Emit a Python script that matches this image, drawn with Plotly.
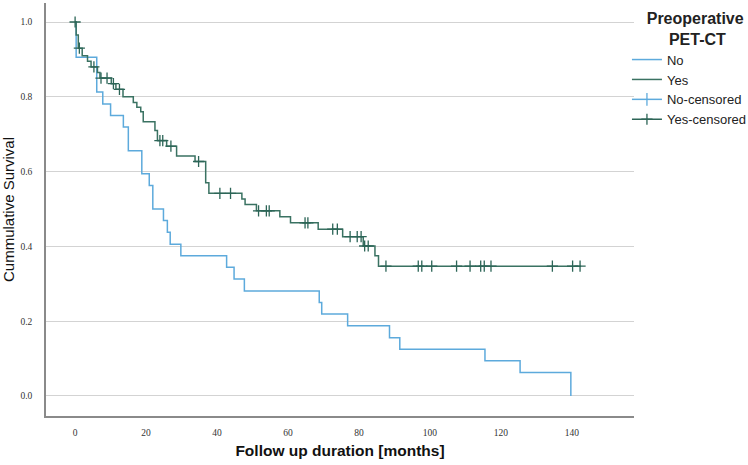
import numpy as np
import plotly.graph_objects as go

# ---- data ----
no_times = [0.3, 6.1, 7.8, 10.0, 13.6, 15.0, 18.8, 20.9, 21.9, 24.9, 26.0, 26.8, 29.8,
            42.7, 44.8, 47.7, 68.8, 69.5, 76.8, 88.6, 91.5, 115.5, 125.4, 139.7]
no_surv = [0.906, 0.8125, 0.781, 0.75, 0.719, 0.656, 0.594, 0.5625, 0.5, 0.469, 0.4375, 0.406, 0.375,
           0.344, 0.3125, 0.281, 0.25, 0.219, 0.1875, 0.156, 0.125, 0.094, 0.0625, 0.0]

yes_times = [0.3, 0.9, 2.0, 3.5, 4.5, 6.3, 7.0, 10.2, 11.5, 13.5, 16.4, 17.4, 18.5, 19.2,
             22.5, 23.2, 25.8, 28.6, 33.8, 36.8, 37.7, 47.0, 47.9, 51.1, 57.7, 60.7,
             68.5, 75.4, 81.2, 84.5, 85.5]
yes_surv = [0.965, 0.93, 0.91, 0.895, 0.88, 0.865, 0.85, 0.835, 0.82, 0.80, 0.785, 0.772, 0.76, 0.733,
            0.71, 0.683, 0.668, 0.642, 0.627, 0.57, 0.542, 0.527, 0.512, 0.495, 0.479, 0.463,
            0.446, 0.426, 0.401, 0.375, 0.347]
yes_end = 142.6
yes_censor_times = [0.0, 1.2, 5.3, 7.3, 9.0, 10.8, 12.5, 23.9, 24.7, 27.0, 34.8, 40.8, 43.8,
                    51.7, 53.9, 54.7, 64.8, 65.6, 72.6, 73.9, 77.5, 79.5, 80.6, 81.6, 82.6,
                    87.6, 96.7, 97.7, 100.5, 107.5, 111.3, 114.3, 115.3, 117.2, 134.5, 140.2, 142.3]

x_ticks = [0, 20, 40, 60, 80, 100, 120, 140]
y_ticks = [0.0, 0.2, 0.4, 0.6, 0.8, 1.0]

BLUE = "#5DAADC"
GREEN = "#3A7262"
CENS = "#2C6557"

def step_xy(times, surv, end=None):
    xs = [0.0] + list(times)
    ys = [1.0] + list(surv)
    if end is not None:
        xs.append(end)
        ys.append(ys[-1])
    return xs, ys

def surv_at(times, surv, t):
    idx = np.searchsorted(np.array(times), np.array(t), side="right")
    s = np.concatenate([[1.0], surv])
    return s[idx]

def isolated(xs, ys):
    # points separated by gaps so the "lines" part only shows in the legend
    ox, oy = [], []
    for a, b in zip(xs, ys):
        ox += [a, None]
        oy += [b, None]
    return ox, oy

fig = go.Figure()
nx, ny = step_xy(no_times, no_surv)
fig.add_trace(go.Scatter(x=nx, y=ny, mode="lines", line=dict(color=BLUE, width=1.5, shape="hv"), name="No"))
yx, yy = step_xy(yes_times, yes_surv, yes_end)
fig.add_trace(go.Scatter(x=yx, y=yy, mode="lines", line=dict(color=GREEN, width=1.5, shape="hv"), name="Yes"))
fig.add_trace(go.Scatter(x=[None], y=[None], mode="lines+markers", name="No-censored",
                         line=dict(color=BLUE, width=1.5), connectgaps=False,
                         marker=dict(symbol="line-ns-open", size=9, color=BLUE,
                                     line=dict(color=BLUE, width=1.3))))
cx, cy = isolated(yes_censor_times, surv_at(yes_times, yes_surv, yes_censor_times))
fig.add_trace(go.Scatter(x=cx, y=cy, mode="lines+markers", name="Yes-censored",
                         line=dict(color=CENS, width=1.5), connectgaps=False,
                         marker=dict(symbol="cross-thin-open", size=8, color=CENS,
                                     line=dict(color=CENS, width=1.3))))

NB = "&nbsp;"
fig.update_layout(
    width=748, height=465,
    margin=dict(l=46, r=114, t=3, b=49, autoexpand=False),
    paper_bgcolor="white", plot_bgcolor="white",
    font=dict(family="Liberation Sans, Arial, sans-serif", color="#222"),
    legend=dict(
        x=0.988, xanchor="left", y=1.0, yanchor="top",
        bgcolor="rgba(0,0,0,0)",
        title=dict(text="<b>" + NB * 4 + "Preoperative<br>" + NB * 9 + "PET-CT</b>", side="top",
                   font=dict(size=16, color="#222")),
        font=dict(size=13, color="#222"),
        itemwidth=30, tracegroupgap=0,
    ),
    xaxis=dict(
        range=[-8.2, 157.5], tickvals=x_ticks, ticktext=[str(v) for v in x_ticks],
        showgrid=False, zeroline=False, showline=True, linecolor="#8a8a8a", linewidth=1.5,
        ticks="", tickfont=dict(family="Liberation Serif, serif", size=9.5, color="#333"),
        ticklabelstandoff=7, automargin=False,
        title=dict(text="<b>Follow up duration [months]</b>", font=dict(size=15.5, color="#111"), standoff=8),
    ),
    yaxis=dict(
        range=[-0.0535, 1.0508], tickvals=y_ticks, ticktext=[f"{v:.1f}" for v in y_ticks],
        showgrid=True, gridcolor="#d3d3d3", gridwidth=1.2, zeroline=False,
        showline=True, linecolor="#8a8a8a", linewidth=1.5,
        ticks="", tickfont=dict(family="Liberation Serif, serif", size=9.5, color="#333"),
        ticklabelstandoff=10, automargin=False,
        title=dict(text="Cummulative Survival", font=dict(size=15, color="#111"), standoff=8),
    ),
)

fig.write_html("out.html", config={"displayModeBar": False},
               post_script="document.body.style.margin='0px';")
